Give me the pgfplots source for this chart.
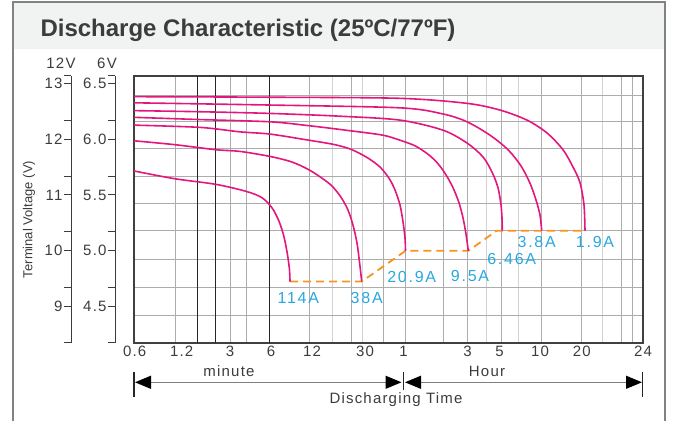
\documentclass[border=0pt]{standalone}
\usepackage{fontspec}
\setmainfont{Liberation Sans}
\newfontfamily\spaced{Liberation Sans}[LetterSpace=8]
\newfontfamily\wide{Liberation Sans}[LetterSpace=11]
\usepackage{pgfplots}
\pgfplotsset{compat=1.18}
\usetikzlibrary{arrows.meta}

\definecolor{curve}{RGB}{228,22,126}
\definecolor{cutoff}{RGB}{247,148,29}
\definecolor{amp}{RGB}{41,168,224}
\definecolor{txt}{RGB}{60,60,60}
\definecolor{band}{RGB}{241,242,242}
\definecolor{frame}{RGB}{130,130,130}

% x is a position along the (non-uniform) time scale, 0..509
% y is terminal voltage of the 12V battery
\pgfplotsset{
  scalebar/.style={
    at={(#1pt,78pt)}, anchor=south west, scale only axis,
    width=10pt, height=267pt, xmin=0, xmax=1, ymin=8.35, ymax=13.13,
    axis x line=none, axis y line=left,
    y axis line style={-, draw=txt, line width=1pt},
    tick align=outside, major tick length=7pt, minor tick length=7pt,
    tick style={draw=txt, line width=1pt},
    ytick={9,10,11,12,13}, minor ytick={9.35,10.34,11.33,12.33},
    extra y ticks={8.35,13.13}, extra y tick labels={},
    yticklabel style={font=\spaced\fontsize{15}{15}\selectfont, text=txt, xshift=2pt},
    /pgf/number format/assume math mode=true,
  },
  curv/.style={curve, line width=1.6pt, smooth, tension=0.5},
}
\tikzset{amps/.style={font=\wide\fontsize{16}{16}\selectfont, text=amp}}

\begin{document}
\begin{tikzpicture}[x=1pt,y=1pt]
\path (0,0) rectangle (675,421);
\fill[band] (13,372) rectangle (665,419);
\draw[frame, line width=1.5pt] (13,0) -- (13,419) -- (665,419) -- (665,0);
\node[anchor=base west, text=txt, font=\bfseries\fontsize{24}{28}\selectfont]
  at (37,384) {Discharge Characteristic (25ºC/77ºF)};

% voltage scales
\begin{axis}[scalebar=71, yticklabels={9,10,11,12,13}]
\end{axis}
\begin{axis}[scalebar=115, yticklabels={4.5,5.0,5.5,6.0,6.5}]
\end{axis}
\node[font=\spaced\fontsize{15}{15}\selectfont, text=txt] at (61,358) {12V};
\node[font=\spaced\fontsize{15}{15}\selectfont, text=txt] at (107,358) {6V};
\node[rotate=90, font=\fontsize{13}{13}\selectfont, text=txt] at (29,201.5) {Terminal Voltage (V)};

\begin{axis}[
    at={(134pt,78pt)}, anchor=south west, scale only axis,
    width=509pt, height=267pt,
    xmin=0, xmax=509, ymin=8.35, ymax=13.13,
    xtick={41,96,112.7,175.3,217,249.3,271,309.3,333.3,367,407.7,447.7,487.7,498.7},
    minor xtick={198.3,228.7,352.7,384.3,468.3},
    extra x ticks={63.3,81.7,135.7}, extra x tick labels={},
    extra x tick style={major grid style={black!85, line width=1pt}},
    xticklabels={},
    ytick={8.85,9.34,9.85,10.36,10.84,11.33,11.84,12.31,12.79},
    yticklabels={},
    grid=both,
    major grid style={gray!65, line width=0.9pt},
    minor grid style={gray!35, line width=0.9pt},
    major tick length=0, minor tick length=0,
    axis line style={draw=black!75, line width=1.5pt},
]
% end-of-discharge voltage
\addplot[cutoff, line width=1.8pt, dash pattern=on 8pt off 5pt] coordinates {
  (156,9.45)(227.7,9.45)(271.5,10.00)(334.3,10.00)(362.7,10.36)(452,10.36)};

% 114A
\addplot[curv] coordinates {
  (0,11.43)(41,11.29)(82,11.19)(113,11.06)(128,10.95)(138,10.77)(145,10.53)
  (150,10.25)(153.5,9.93)(155.5,9.66)(156,9.45)};
% 38A
\addplot[curv] coordinates {
  (0,11.97)(41,11.90)(82,11.81)(106,11.78)(136,11.69)(158,11.59)(175,11.45)
  (188,11.30)(198,11.16)(207,10.96)(214,10.73)(219,10.46)(223,10.14)
  (225.5,9.80)(227.7,9.45)};
% 20.9A
\addplot[curv] coordinates {
  (0,12.25)(66,12.21)(106,12.13)(136,12.09)(175,11.98)(201,11.90)(218,11.81)
  (234,11.66)(246,11.50)(255,11.30)(261,11.09)(266,10.82)(269,10.52)
  (271,10.23)(271.5,10.00)};
% 9.5A
\addplot[curv] coordinates {
  (0,12.39)(66,12.35)(136,12.31)(175,12.24)(216,12.15)(249,12.07)(266,11.98)
  (281,11.88)(294,11.73)(304,11.56)(312,11.36)(319,11.13)(325,10.86)
  (329,10.59)(332,10.30)(334.3,10.00)};
% 6.46A
\addplot[curv] coordinates {
  (0,12.51)(66,12.49)(136,12.46)(206,12.41)(266,12.34)(309,12.16)(333,11.93)
  (349,11.68)(358,11.41)(364,11.13)(367,10.82)(368,10.59)(368.3,10.36)};
% 3.8A
\addplot[curv] coordinates {
  (0,12.65)(136,12.61)(266,12.56)(309,12.45)(333,12.31)(356,12.07)(374,11.81)
  (387,11.52)(396,11.21)(402,10.91)(406,10.64)(407.7,10.36)};
% 1.9A
\addplot[curv] coordinates {
  (0,12.76)(136,12.75)(266,12.73)(333,12.64)(366,12.52)(393,12.34)(413,12.11)
  (429,11.81)(439,11.50)(446,11.22)(450,10.82)(451,10.36)};

\node[amps] at (axis cs:164.3,9.15) {114A};
\node[amps] at (axis cs:232.7,9.15) {38A};
\node[amps] at (axis cs:277.7,9.54) {20.9A};
\node[amps] at (axis cs:336,9.55) {9.5A};
\node[amps] at (axis cs:377.7,9.85) {6.46A};
\node[amps] at (axis cs:402.7,10.16) {3.8A};
\node[amps] at (axis cs:461,10.16) {1.9A};
\end{axis}

% time labels
\begin{axis}[
    at={(134pt,78pt)}, anchor=south west, scale only axis,
    width=509pt, height=267pt,
    xmin=0, xmax=509, ymin=0, ymax=1,
    hide y axis, axis x line=bottom, x axis line style={draw=none},
    major tick length=0,
    xtick={0.7,47.7,96,137,178,231,269.5,333.5,365.5,406,447.7,509},
    xticklabels={0.6,1.2,3,6,12,30,1,3,5,10,20,24},
    xticklabel style={font=\spaced\fontsize{15}{15}\selectfont, text=txt},
    /pgf/number format/assume math mode=true,
]
\end{axis}

\node[font=\spaced\fontsize{15}{15}\selectfont, text=txt] at (229,50) {minute};
\node[font=\spaced\fontsize{15}{15}\selectfont, text=txt] at (487,50) {Hour};
\node[font=\spaced\fontsize{15}{15}\selectfont, text=txt] at (396,21) {Discharging Time};
\draw[gray, line width=1.2pt,
  {Triangle[length=16pt,width=13pt,color=black]}-{Triangle[length=16pt,width=13pt,color=black]}]
  (135,38.7) -- (401.5,38.7);
\draw[gray, line width=1.2pt,
  {Triangle[length=16pt,width=13pt,color=black]}-{Triangle[length=16pt,width=13pt,color=black]}]
  (405,38.7) -- (642,38.7);
\draw[black!85, line width=1.2pt] (134,49.3) -- (134,24);
\draw[black!85, line width=1.2pt] (403.3,49) -- (403.3,31);
\draw[black!85, line width=1.2pt] (642.7,49.3) -- (642.7,24);
\end{tikzpicture}
\end{document}
